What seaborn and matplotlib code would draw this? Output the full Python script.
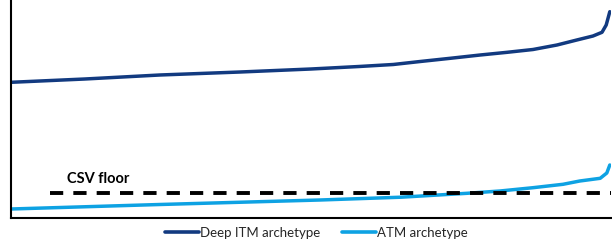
import matplotlib
matplotlib.use("Agg")
import matplotlib.pyplot as plt
import seaborn as sns
import pandas as pd
from matplotlib.lines import Line2D

# Data (x = percentile across the sample, y = value in arbitrary units)
deep_x = [0, 12.3, 24.8, 38.2, 50, 58, 63.7, 68.2, 73.2, 78.2, 82.7, 87, 91, 94.3, 97, 98.5, 99.2, 99.8]
deep_y = [135.7, 139, 143, 146, 149, 151.5, 153.5, 156.5, 159.7, 163, 165.7, 168.5, 173, 178, 182, 185.7, 193, 206.3]
atm_x = [0, 24.8, 51.5, 65, 76, 81.5, 87, 92, 94.8, 98.2, 99.3, 99.8]
atm_y = [9, 13.5, 18, 20.8, 24.7, 27, 30.3, 33.7, 37, 39.7, 45, 53]
floor_x = [6.5, 100]
floor_y = [24.7, 24.7]
series_names = ["Deep ITM archetype", "ATM archetype"]
floor_label = "CSV floor"

sns.set_theme(style="white")
plt.rcParams["font.family"] = ["Lato", "DejaVu Sans"]

df = pd.concat([
    pd.DataFrame({"x": deep_x, "y": deep_y, "series": series_names[0]}),
    pd.DataFrame({"x": atm_x, "y": atm_y, "series": series_names[1]}),
])
palette = {series_names[0]: "#123a80", series_names[1]: "#0ea2e3"}

fig = plt.figure(figsize=(6.12, 2.44), dpi=100)
ax = fig.add_axes([11 / 612, 26 / 244, 600 / 612, 218 / 244])

sns.lineplot(data=df, x="x", y="y", hue="series", palette=palette,
             linewidth=2.5, ax=ax, legend=False, estimator=None, sort=True)
sns.lineplot(x=floor_x, y=floor_y, color="black", linewidth=2.8, ax=ax,
             linestyle=(0, (3.4, 2.6)), estimator=None)

ax.text(9.3, 39, floor_label, fontsize=10.5, fontweight="bold",
        ha="left", va="center", color="black")

ax.set_xlim(0, 100)
ax.set_ylim(0, 218)
ax.set_xticks([])
ax.set_yticks([])
ax.set_xlabel("")
ax.set_ylabel("")
for s in ["top", "right"]:
    ax.spines[s].set_visible(False)
for s in ["left", "bottom"]:
    ax.spines[s].set_color("black")
    ax.spines[s].set_linewidth(1.5)

handles = [Line2D([0], [0], color=palette[n], linewidth=2.6) for n in series_names]
fig.legend(handles, series_names, loc="center", bbox_to_anchor=(0.517, 0.045),
           ncol=2, frameon=False, fontsize=9.5, handlelength=2.6,
           handletextpad=0.1, columnspacing=1.6)

fig.savefig("out.png", dpi=100)
